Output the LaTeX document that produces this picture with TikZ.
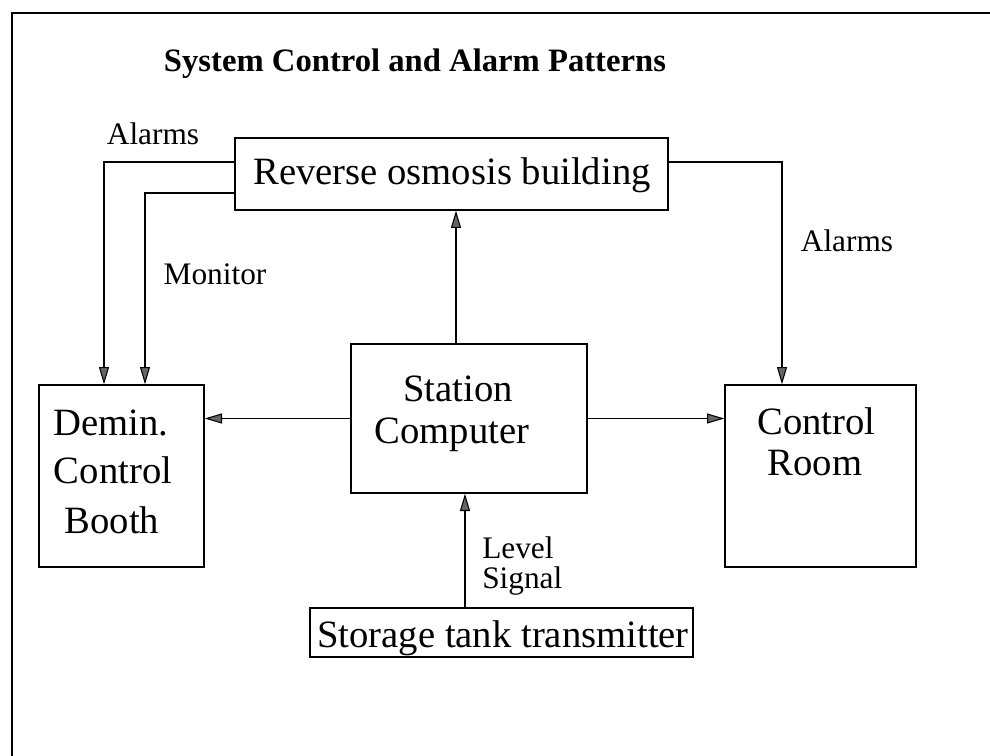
\documentclass[tikz,border=0pt]{standalone}
\usepackage{fontspec}
\setmainfont{Liberation Serif}
\usetikzlibrary{arrows.meta,calc}

\tikzset{
  box/.style={draw=black, line width=1pt, rectangle, inner sep=0pt},
  conn/.style={draw=black, line width=0.9pt,
    -{Triangle[length=13pt,width=7.5pt,fill=black!60,line width=0.8pt]}},
  big/.style={font=\fontsize{29}{32}\selectfont, inner sep=0pt, anchor=base},
  small/.style={font=\fontsize{23.5}{26}\selectfont, inner sep=0pt, anchor=base},
  heading/.style={font=\fontsize{24.5}{28}\selectfont\bfseries, inner sep=0pt, anchor=base},
}

\begin{document}
\begin{tikzpicture}[x=0.75pt, y=-0.75pt]
  \useasboundingbox (0,0) rectangle (990,756);

  % outer frame (top and left edges)
  \draw[line width=1.8pt] (990,13) -- (12,13) -- (12,756);

  % heading
  \node[heading] (title) at (415,72) {System Control and Alarm Patterns};

  % boxes
  \node[box, minimum width=433*0.75pt, minimum height=72*0.75pt] (ro) at (451.5,174) {};
  \node[box, minimum width=165*0.75pt, minimum height=182*0.75pt] (demin) at (121.5,476) {};
  \node[box, minimum width=236*0.75pt, minimum height=149*0.75pt] (st) at (469,418.5) {};
  \node[box, minimum width=191*0.75pt, minimum height=182*0.75pt] (cr) at (820.5,476) {};
  \node[box, minimum width=383*0.75pt, minimum height=49*0.75pt] (tank) at (501.5,632.5) {};

  % box texts
  \node[big] (rotext) at (452,185) {Reverse osmosis building};
  \node[big] (demin1) at (111,435) {Demin.};
  \node[big] (demin2) at (113,483) {Control};
  \node[big] (demin3) at (112,533) {Booth};
  \node[big] (st1) at (458,402) {Station};
  \node[big] (st2) at (452,443) {Computer};
  \node[big] (cr1) at (816.5,434) {Control};
  \node[big] (cr2) at (815,475) {Room};
  \node[big] (tanktext) at (503,647) {Storage tank transmitter};

  % connector labels
  \node[small] (lalarms) at (153,145) {Alarms};
  \node[small] (lmonitor) at (215,285) {Monitor};
  \node[small] (ralarms) at (847,252) {Alarms};
  \node[small, anchor=base west] (level1) at (482,558) {Level};
  \node[small, anchor=base west] (level2) at (482,588) {Signal};

  % attachment points on the boxes
  \coordinate (roA) at ($(ro.west)+(0,-12)$);
  \coordinate (roM) at ($(ro.west)+(0,19)$);
  \coordinate (roR) at ($(ro.east)+(0,-12)$);
  \coordinate (deminA) at ($(demin.north)+(-17.5,0)$);
  \coordinate (deminM) at ($(demin.north)+(23.5,0)$);
  \coordinate (crA) at ($(cr.north)+(-38.5,0)$);
  \coordinate (stUp) at ($(st.north)+(-13,0)$);
  \coordinate (stDown) at ($(st.south)+(-4,0)$);

  % connectors
  \draw[conn] (roA) -| (deminA);
  \draw[conn] (roM) -| (deminM);
  \draw[conn] (roR) -| (crA);
  \draw[conn] (stUp) -- (stUp |- ro.south);
  \draw[conn] (st.west) -- (st.west -| demin.east);
  \draw[conn] (st.east) -- (st.east -| cr.west);
  \draw[conn] (stDown |- tank.north) -- (stDown);
\end{tikzpicture}
\end{document}
